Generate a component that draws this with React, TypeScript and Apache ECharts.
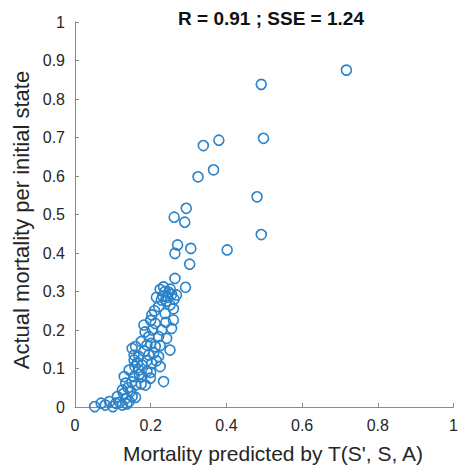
import React, { useEffect, useRef } from "react";
import * as echarts from "echarts";

const titleText = "R = 0.91 ; SSE = 1.24";
const xAxisName = "Mortality predicted by T(S', S, A)";
const yAxisName = "Actual mortality per initial state";

// predicted mortality (x)
const predicted: number[] = [
  0.717, 0.492, 0.380, 0.339, 0.498, 0.366, 0.325, 0.481, 0.492, 0.402,
  0.294, 0.262, 0.290, 0.271, 0.264, 0.306, 0.303, 0.264, 0.234, 0.292,
  0.225, 0.238, 0.248, 0.232, 0.245, 0.255, 0.228, 0.242, 0.268, 0.252, 0.262,
  0.221, 0.251, 0.203, 0.238, 0.260, 0.182, 0.212, 0.229, 0.255, 0.195,
  0.221, 0.242, 0.160, 0.190, 0.212, 0.251, 0.169, 0.195, 0.221, 0.156,
  0.177, 0.203, 0.225, 0.143, 0.169, 0.190, 0.130, 0.156, 0.177, 0.199,
  0.134, 0.160, 0.186, 0.234, 0.125, 0.147, 0.112, 0.134, 0.091, 0.069,
  0.052, 0.108, 0.125, 0.143, 0.151, 0.100,
  0.210, 0.200, 0.185, 0.205, 0.175, 0.200, 0.183, 0.208, 0.165, 0.190,
  0.215, 0.170, 0.150, 0.175, 0.200, 0.158, 0.140, 0.118, 0.080, 0.128,
  0.160, 0.137, 0.225, 0.240, 0.260, 0.215, 0.156, 0.151,
];

// actual mortality (y)
const actual: number[] = [
  0.875, 0.838, 0.693, 0.679, 0.698, 0.616, 0.598, 0.546, 0.448, 0.408,
  0.516, 0.493, 0.480, 0.421, 0.399, 0.412, 0.371, 0.334, 0.312, 0.311,
  0.305, 0.300, 0.298, 0.288, 0.285, 0.292, 0.278, 0.275, 0.291, 0.306, 0.280,
  0.261, 0.265, 0.239, 0.243, 0.226, 0.213, 0.217, 0.200, 0.204, 0.183,
  0.183, 0.178, 0.157, 0.161, 0.157, 0.148, 0.131, 0.135, 0.131, 0.122,
  0.109, 0.113, 0.105, 0.096, 0.096, 0.092, 0.079, 0.079, 0.079, 0.075,
  0.062, 0.057, 0.057, 0.066, 0.044, 0.040, 0.027, 0.022, 0.014, 0.010,
  0.001, 0.010, 0.005, 0.014, 0.027, 0.001,
  0.250, 0.225, 0.195, 0.200, 0.170, 0.165, 0.145, 0.140, 0.115, 0.120,
  0.120, 0.085, 0.065, 0.060, 0.090, 0.105, 0.050, 0.012, 0.005, 0.035,
  0.025, 0.008, 0.160, 0.220, 0.255, 0.285, 0.135, 0.152,
];

const xTicks = [0, 0.2, 0.4, 0.6, 0.8, 1];
const yTicks = [0, 0.1, 0.2, 0.3, 0.4, 0.5, 0.6, 0.7, 0.8, 0.9, 1];

export default function App() {
  const ref = useRef<HTMLDivElement>(null);

  useEffect(() => {
    if (!ref.current) return;
    const chart = echarts.init(ref.current, undefined, { renderer: "svg" });
    const points = predicted.map((x, i) => [x, actual[i]]);
    const axisColor = "#8c8c8c";
    const labelColor = "#262626";
    const font = "'Liberation Sans', Arial, sans-serif";
    const fmt = (v: number) => String(Math.round(v * 10) / 10);
    chart.setOption({
      animation: false,
      backgroundColor: "#ffffff",
      textStyle: { fontFamily: font },
      grid: { left: 75, right: 1, top: 22, bottom: 60, containLabel: false },
      graphic: [
        {
          type: "text",
          x: 271,
          y: 18,
          style: {
            text: titleText,
            fontFamily: font,
            fontSize: 19,
            fontWeight: "bold",
            fill: "#111",
            align: "center",
            verticalAlign: "middle",
          },
        },
        {
          type: "text",
          x: 273,
          y: 453,
          style: {
            text: xAxisName,
            fontFamily: font,
            fontSize: 21,
            fill: labelColor,
            align: "center",
            verticalAlign: "middle",
          },
        },
        {
          type: "text",
          x: 21,
          y: 220,
          rotation: Math.PI / 2,
          style: {
            text: yAxisName,
            fontFamily: font,
            fontSize: 22,
            fill: labelColor,
            align: "center",
            verticalAlign: "middle",
          },
        },
      ],
      xAxis: {
        type: "value",
        min: xTicks[0],
        max: xTicks[xTicks.length - 1],
        interval: 0.2,
        axisLine: { show: true, lineStyle: { color: axisColor, width: 1 } },
        axisTick: { show: true, inside: true, length: 4, lineStyle: { color: axisColor } },
        axisLabel: { fontSize: 16, color: labelColor, margin: 10, formatter: fmt, fontFamily: font },
        splitLine: { show: false },
      },
      yAxis: {
        type: "value",
        min: yTicks[0],
        max: yTicks[yTicks.length - 1],
        interval: 0.1,
        axisLine: { show: true, lineStyle: { color: axisColor, width: 1 } },
        axisTick: { show: true, inside: true, length: 4, lineStyle: { color: axisColor } },
        axisLabel: { fontSize: 16, color: labelColor, margin: 10, formatter: fmt, fontFamily: font },
        splitLine: { show: false },
      },
      series: [
        {
          type: "scatter",
          data: points,
          symbol: "circle",
          symbolSize: 10,
          itemStyle: {
            color: "transparent",
            borderColor: "#2b83c9",
            borderWidth: 1.6,
            opacity: 1,
          },
        },
      ],
    });
    return () => chart.dispose();
  }, []);

  return (
    <div
      ref={ref}
      style={{ position: "fixed", left: 0, top: 0, width: 461, height: 467 }}
    />
  );
}
